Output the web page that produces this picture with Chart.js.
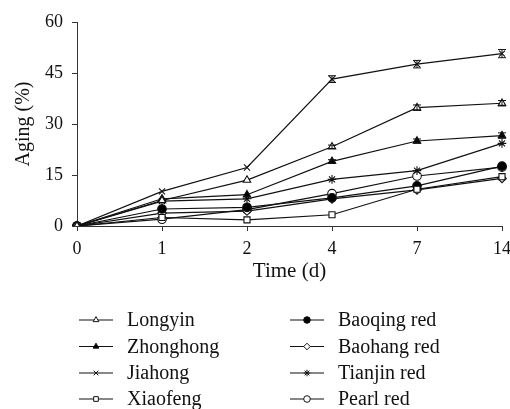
<!DOCTYPE html>
<html>
<head>
<meta charset="utf-8">
<script src="https://cdn.jsdelivr.net/npm/chart.js@4.4.0/dist/chart.umd.min.js"></script>
<style>
  body { margin: 0; background: #fff; }
  #wrap { width: 510px; height: 409px; position: relative; }
</style>
</head>
<body>
<div id="wrap"><canvas id="lineChart"></canvas></div>
<script>
const days = ['0', '1', '2', '4', '7', '14'];
const yTicks = [0, 15, 30, 45, 60];

const names = ['Longyin', 'Zhonghong', 'Jiahong', 'Xiaofeng', 'Baoqing red', 'Baohang red', 'Tianjin red', 'Pearl red'];

const longyin = [0, 7.5, 13.5, 23.3, 34.8, 36.1];
const zhonghong = [0, 8.0, 9.2, 19.0, 25.0, 26.6];
const jiahong = [0, 10.2, 17.2, 43.2, 47.6, 50.7];
const xiaofeng = [0, 2.5, 1.8, 3.3, 10.8, 14.5];
const baoqing = [0, 5.0, 5.5, 8.3, 11.8, 17.6];
const baohang = [0, 3.8, 4.4, 8.0, 10.6, 14.0];
const tianjin = [0, 7.3, 8.0, 13.7, 16.3, 24.3];
const pearl = [0, 2.0, 4.8, 9.5, 14.7, 17.3];

// small error bars seen on the upper curves
const jiahongErr = [0, 0, 0, 1.0, 1.1, 1.2];
const longyinErr = [0, 0, 0, 0.5, 0.8, 0.8];
const zhonghongErr = [0, 0, 0, 0.5, 0.6, 0.8];

const series = [longyin, zhonghong, jiahong, xiaofeng, baoqing, baohang, tianjin, pearl];
const errors = [longyinErr, zhonghongErr, jiahongErr, null, null, null, null, null];
const styles = ['triangle', 'triangle', 'crossRot', 'rect', 'circle', 'rectRot', 'star', 'circle'];
const fills = ['#fff', '#000', '#000', '#fff', '#000', '#fff', '#000', '#fff'];

const serif = "'Liberation Serif', 'DejaVu Serif', serif";

const datasets = series.map((d, i) => ({
  label: names[i],
  data: d,
  err: errors[i],
  borderColor: '#111',
  borderWidth: 1.2,
  pointStyle: styles[i],
  pointRadius: 4.3,
  pointBorderWidth: 1.1,
  pointBackgroundColor: fills[i],
  pointBorderColor: '#111',
  tension: 0,
  fill: false
}));

const errorBars = {
  id: 'errorBars',
  afterDatasetsDraw(chart) {
    const ctx = chart.ctx;
    ctx.save();
    ctx.strokeStyle = '#111';
    ctx.lineWidth = 1;
    chart.data.datasets.forEach((ds, i) => {
      if (!ds.err) return;
      const meta = chart.getDatasetMeta(i);
      meta.data.forEach((pt, j) => {
        const e = ds.err[j];
        if (!e) return;
        const yTop = chart.scales.y.getPixelForValue(ds.data[j] + e);
        const yBot = chart.scales.y.getPixelForValue(ds.data[j] - e);
        ctx.beginPath();
        ctx.moveTo(pt.x, yTop); ctx.lineTo(pt.x, yBot);
        ctx.moveTo(pt.x - 4, yTop); ctx.lineTo(pt.x + 4, yTop);
        ctx.moveTo(pt.x - 4, yBot); ctx.lineTo(pt.x + 4, yBot);
        ctx.stroke();
      });
    });
    ctx.restore();
  }
};

// two-column legend under the x axis title
const bottomLegend = {
  id: 'bottomLegend',
  afterDraw(chart) {
    const ctx = chart.ctx;
    const colX = [79, 290];
    const rowY = [320, 346.5, 373, 399];
    ctx.save();
    ctx.font = '20px ' + serif;
    ctx.textBaseline = 'middle';
    chart.data.datasets.forEach((ds, i) => {
      const x = colX[Math.floor(i / 4)];
      const y = rowY[i % 4];
      ctx.strokeStyle = '#111';
      ctx.lineWidth = 1.2;
      ctx.beginPath();
      ctx.moveTo(x, y); ctx.lineTo(x + 34, y);
      ctx.stroke();
      ctx.fillStyle = ds.pointBackgroundColor;
      ctx.lineWidth = 1;
      Chart.helpers.drawPoint(ctx, { pointStyle: ds.pointStyle, radius: 3.3, rotation: 0, borderWidth: 1 }, x + 17, y);
      ctx.fillStyle = '#111';
      ctx.fillText(ds.label, x + 48, y + 1);
    });
    ctx.restore();
  }
};

const chart = new Chart(document.getElementById('lineChart'), {
  type: 'line',
  data: { labels: days, datasets: datasets },
  options: {
    responsive: true,
    maintainAspectRatio: false,
    animation: false,
    layout: { padding: { left: 0, right: 0, top: 22, bottom: 125 } },
    plugins: {
      legend: { display: false },
      tooltip: { enabled: false }
    },
    scales: {
      x: {
        type: 'category',
        offset: false,
        afterFit(scale) { scale.height = 58; scale.paddingRight = 8; },
        grid: { drawOnChartArea: false, drawTicks: true, tickLength: 5, color: '#333' },
        border: { color: '#333', width: 1 },
        ticks: { color: '#111', font: { family: serif, size: 18 }, padding: 7, maxRotation: 0 },
        title: { display: true, text: 'Time (d)', color: '#111', font: { family: serif, size: 21 }, padding: { top: 4, bottom: 0 } }
      },
      y: {
        min: 0,
        max: 60,
        afterFit(scale) { scale.width = 77; },
        afterBuildTicks(scale) { scale.ticks = yTicks.map(v => ({ value: v })); },
        grid: { drawOnChartArea: false, drawTicks: true, tickLength: 5, color: '#333' },
        border: { color: '#333', width: 1 },
        ticks: { color: '#111', font: { family: serif, size: 18 }, padding: 9 },
        title: { display: true, text: 'Aging (%)', color: '#111', font: { family: serif, size: 20 }, padding: { top: 12, bottom: 0 } }
      }
    }
  },
  plugins: [errorBars, bottomLegend]
});
</script>
</body>
</html>
